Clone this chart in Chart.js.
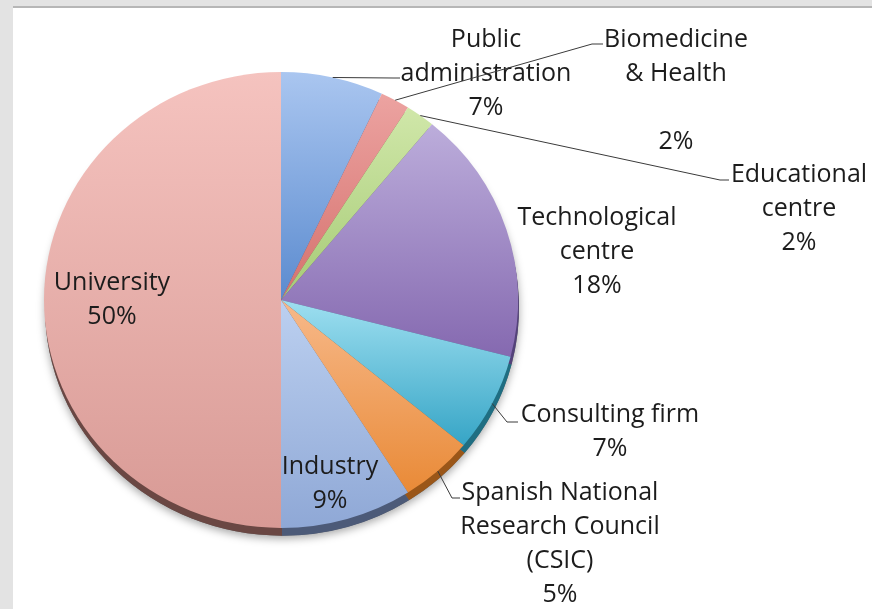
<!DOCTYPE html>
<html lang="en">
<head>
  <meta charset="UTF-8">
  <title>Organisation types</title>
  <style>
    html, body {
      margin: 0;
      padding: 0;
    }
    body {
      width: 872px;
      height: 609px;
      background-color: #e3e3e3;
      position: relative;
      overflow: hidden;
    }
    .panel {
      position: absolute;
      left: 13px;
      top: 6px;
      right: 0;
      bottom: 0;
      background-color: #fff;
      border-top: 2px solid #b6b6b6;
    }
    canvas {
      position: absolute;
      left: 0;
      top: 0;
    }
  </style>
  <script src="https://cdn.jsdelivr.net/npm/chart.js"></script>
</head>
<body>
  <div class="panel"></div>
  <canvas id="pieChart" width="872" height="609"></canvas>

  <script>
    // data
    const categories = [
      ['Public', 'administration'],
      ['Biomedicine', '& Health'],
      ['Educational', 'centre'],
      ['Technological', 'centre'],
      ['Consulting firm'],
      ['Spanish National', 'Research Council', '(CSIC)'],
      ['Industry'],
      ['University']
    ];
    const shares = [7, 2, 2, 18, 7, 5, 9, 50];

    // colours (light top -> dark bottom, plus the darker 3D rim)
    const topColors = ['#aac6f0', '#eca3a1', '#d0e7a9', '#bcaddb', '#9edff0', '#f7b98a', '#bcd0f0', '#f5c3bf'];
    const bottomColors = ['#5b8bcf', '#d5716d', '#a6cb76', '#8569b0', '#36a5c6', '#e98a37', '#8fa8d6', '#d89a95'];
    const rimColors = ['#3d5f90', '#8f4040', '#6f8a48', '#54427a', '#1f6e82', '#9a5618', '#4c5a78', '#6a4743'];

    // label placement: first baseline, centre x, blank lines before the %, leader elbow + end
    const labelLayout = [
      { x: 486, y: 47, gap: 0, leader: [[393, 78], [400, 78]] },
      { x: 676, y: 47, gap: 1, leader: [[592, 44], [603, 44]] },
      { x: 799, y: 182, gap: 0, leader: [[720, 180], [729, 180]] },
      { x: 597, y: 225, gap: 0, leader: null },
      { x: 610, y: 422, gap: 0, leader: [[507, 422], [518, 422]] },
      { x: 560, y: 500, gap: 0, leader: [[452, 498], [460, 498]] },
      { x: 330, y: 474, gap: 0, leader: null },
      { x: 112, y: 290, gap: 0, leader: null }
    ];
    const lineHeight = 34;
    const tilt = 0.962; // the pie is slightly squashed vertically

    const total = shares.reduce((a, b) => a + b, 0);

    function sliceGradient(context) {
      const i = context.dataIndex;
      const chart = context.chart;
      const area = chart.chartArea;
      if (!area) return topColors[i];
      const cx = (area.left + area.right) / 2;
      const cy = (area.top + area.bottom) / 2;
      const r = Math.min(area.right - area.left, area.bottom - area.top) / 2;
      let cum = 0;
      for (let k = 0; k < i; k++) cum += shares[k];
      const a0 = -Math.PI / 2 + 2 * Math.PI * cum / total;
      const a1 = a0 + 2 * Math.PI * shares[i] / total;
      const ys = [cy, cy + r * Math.sin(a0), cy + r * Math.sin(a1)];
      const wraps = (a) => {
        for (let t = a; t < a1 + 2 * Math.PI; t += 2 * Math.PI) {
          if (t >= a0 && t <= a1) return true;
        }
        return false;
      };
      if (wraps(-Math.PI / 2)) ys.push(cy - r);
      if (wraps(Math.PI / 2)) ys.push(cy + r);
      const yMin = Math.min(...ys);
      const yMax = Math.max(...ys);
      const g = chart.ctx.createLinearGradient(0, yMin, 0, yMax);
      g.addColorStop(0, topColors[i]);
      g.addColorStop(1, bottomColors[i]);
      return g;
    }

    // squash the pie and draw a dark rim under it
    const pieTilt = {
      id: 'pieTilt',
      beforeDatasetsDraw(chart) {
        const ctx = chart.ctx;
        const arcs = chart.getDatasetMeta(0).data;
        const c = arcs[0];
        ctx.save();
        ctx.translate(c.x, c.y);
        ctx.scale(1, tilt);
        ctx.translate(-c.x, -c.y);

        ctx.save();
        ctx.shadowColor = 'rgba(0, 0, 0, 0.35)';
        ctx.shadowBlur = 8;
        ctx.shadowOffsetY = 3;
        ctx.fillStyle = '#666';
        ctx.beginPath();
        ctx.arc(c.x + 1, c.y + 8, c.outerRadius, 0, 2 * Math.PI);
        ctx.fill();
        ctx.restore();

        arcs.forEach((arc, i) => {
          ctx.fillStyle = rimColors[i];
          ctx.beginPath();
          ctx.moveTo(arc.x + 1, arc.y + 8);
          ctx.arc(arc.x + 1, arc.y + 8, arc.outerRadius, arc.startAngle, arc.endAngle);
          ctx.closePath();
          ctx.fill();
        });
      },
      afterDatasetsDraw(chart) {
        chart.ctx.restore();
      }
    };

    // slice labels with leader lines
    const sliceLabels = {
      id: 'sliceLabels',
      afterDraw(chart) {
        const ctx = chart.ctx;
        const arcs = chart.getDatasetMeta(0).data;
        ctx.save();
        ctx.font = '25px "Open Sans", sans-serif';
        ctx.fillStyle = '#1c1c1c';
        ctx.textAlign = 'center';
        ctx.textBaseline = 'alphabetic';
        categories.forEach((lines, i) => {
          const lay = labelLayout[i];
          lines.forEach((t, k) => ctx.fillText(t, lay.x, lay.y + k * lineHeight));
          const pctY = lay.y + (lines.length + lay.gap) * lineHeight;
          ctx.fillText(Math.round(shares[i] / total * 100) + '%', lay.x, pctY);

          if (lay.leader) {
            const arc = arcs[i];
            const mid = (arc.startAngle + arc.endAngle) / 2;
            const sx = arc.x + arc.outerRadius * Math.cos(mid);
            const sy = arc.y + arc.outerRadius * Math.sin(mid) * tilt;
            ctx.strokeStyle = '#3a3a3a';
            ctx.lineWidth = 1;
            ctx.beginPath();
            ctx.moveTo(sx, sy);
            ctx.lineTo(lay.leader[0][0], lay.leader[0][1]);
            ctx.lineTo(lay.leader[1][0], lay.leader[1][1]);
            ctx.stroke();
          }
        });
        ctx.restore();
      }
    };

    const ctx = document.getElementById('pieChart').getContext('2d');
    const pieChart = new Chart(ctx, {
      type: 'pie',
      data: {
        labels: categories,
        datasets: [{
          data: shares,
          backgroundColor: sliceGradient,
          borderWidth: 0
        }]
      },
      options: {
        responsive: false,
        animation: false,
        devicePixelRatio: 1,
        layout: {
          padding: { left: 44, right: 354, top: 63, bottom: 72 }
        },
        plugins: {
          legend: { display: false },
          tooltip: { enabled: false }
        }
      },
      plugins: [pieTilt, sliceLabels]
    });
  </script>
</body>
</html>
